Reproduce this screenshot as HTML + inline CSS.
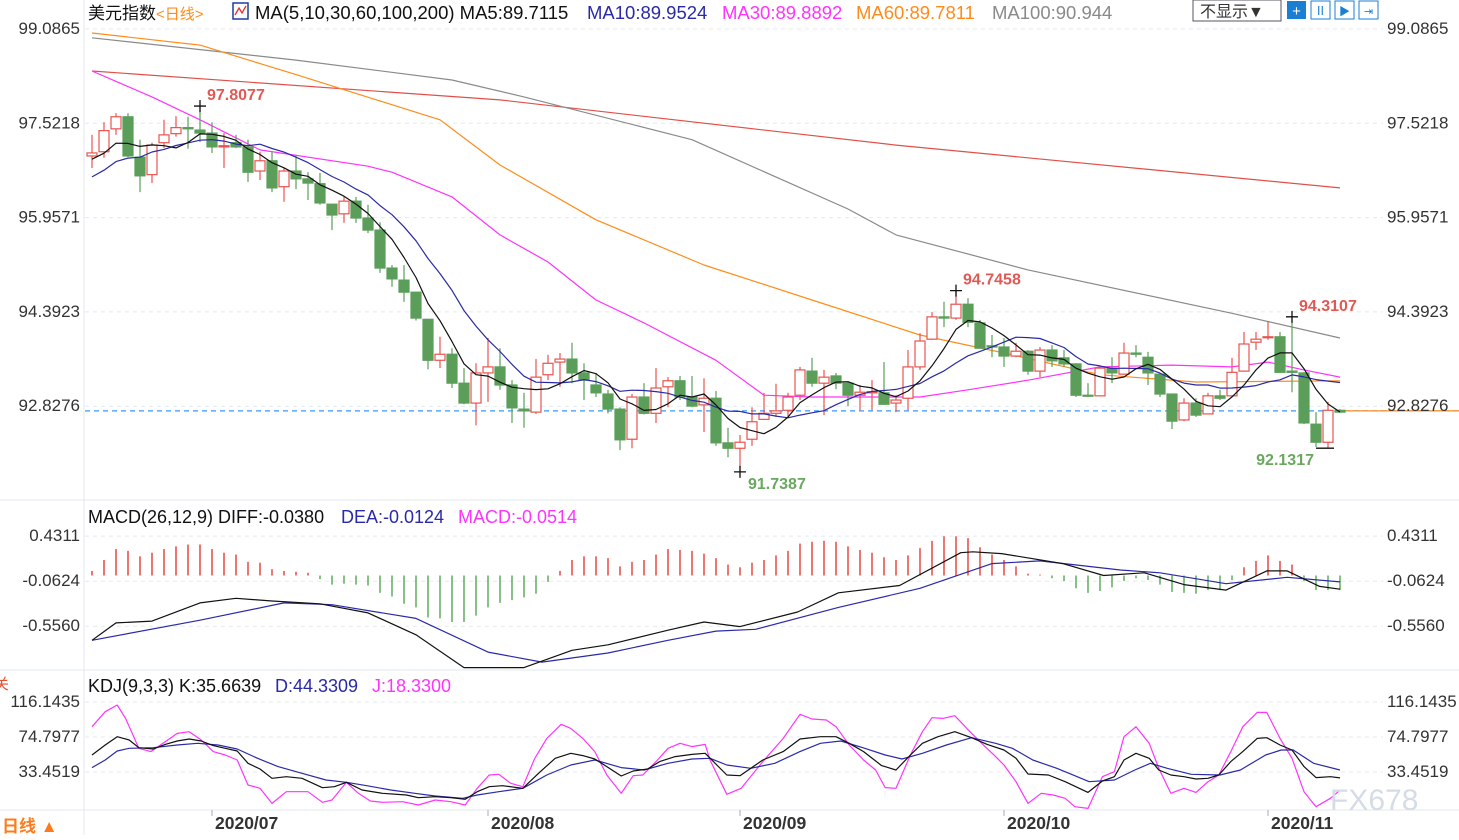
<!DOCTYPE html>
<html><head><meta charset="utf-8">
<style>
html,body{margin:0;padding:0;background:#fff;}
body{width:1459px;height:835px;overflow:hidden;font-family:"Liberation Sans","Noto Sans CJK SC",sans-serif;}
svg text{font-family:"Liberation Sans","Noto Sans CJK SC",sans-serif;}
</style></head>
<body>
<svg id="chart" width="1459" height="835" xmlns="http://www.w3.org/2000/svg">
<rect x="0" y="0" width="1459" height="835" fill="#fff"/>
<line x1="84" y1="0" x2="84" y2="835" stroke="#e3e8ee"/>
<line x1="0" y1="500" x2="1459" y2="500" stroke="#e3e8ee"/>
<line x1="0" y1="670" x2="1459" y2="670" stroke="#e3e8ee"/>
<line x1="0" y1="810" x2="1459" y2="810" stroke="#e3e8ee"/>
<g id="grid"></g>
<g id="main"></g>
<g id="macd"></g>
<g id="kdj"></g>
<g id="axes"></g>
<g font-size="18.5">
<text x="88" y="19" fill="#111" font-size="17">美元指数<tspan fill="#ff8c1a" font-size="15">&lt;日线&gt;</tspan></text>
<rect x="233" y="3" width="15" height="16" fill="#fff" stroke="#1f3f9f" stroke-width="1.5"/>
<polyline points="235,15 239,8 242,13 246,6" fill="none" stroke="#e03030" stroke-width="1.3"/>
<text x="255" y="19" fill="#111">MA(5,10,30,60,100,200) MA5:89.7115</text>
<text x="587" y="19" fill="#2a2aa8">MA10:89.9524</text>
<text x="722" y="19" fill="#ff33ff">MA30:89.8892</text>
<text x="856" y="19" fill="#ff8c1a">MA60:89.7811</text>
<text x="992" y="19" fill="#8a8a8a">MA100:90.944</text>
</g>
<g>
<rect x="1193" y="0" width="88" height="21" fill="#fff" stroke="#556"/>
<text x="1200" y="17" font-size="16" fill="#333">不显示▼</text>
<rect x="1287" y="1" width="19" height="18" fill="#1a7fd4"/>
<text x="1296.5" y="16" font-size="15" fill="#fff" text-anchor="middle">+</text>
<rect x="1311" y="1" width="19" height="18" fill="#fff" stroke="#1a7fd4"/>
<text x="1320.5" y="15" font-size="12" fill="#1a7fd4" text-anchor="middle">Ⅱ</text>
<rect x="1335" y="1" width="19" height="18" fill="#fff" stroke="#1a7fd4"/>
<text x="1344.5" y="15" font-size="11" fill="#1a7fd4" text-anchor="middle">▶</text>
<rect x="1359" y="1" width="19" height="18" fill="#fff" stroke="#1a7fd4"/>
<text x="1368.5" y="15" font-size="11" fill="#1a7fd4" text-anchor="middle">⇥</text>
</g>
<g font-size="18">
<text x="88" y="523" fill="#111">MACD(26,12,9) DIFF:-0.0380</text>
<text x="341" y="523" fill="#2a2aa8">DEA:-0.0124</text>
<text x="458" y="523" fill="#ff33ff">MACD:-0.0514</text>
</g>
<g font-size="18">
<text x="88" y="692" fill="#111">KDJ(9,3,3) K:35.6639</text>
<text x="275" y="692" fill="#2a2aa8">D:44.3309</text>
<text x="372" y="692" fill="#ff33ff">J:18.3300</text>
</g>
<text x="-6" y="689" font-size="15" fill="#e85030">关</text>
<text x="2" y="832" font-size="17" font-weight="bold" fill="#ff7a1a">日线 ▲</text>
<text x="1330" y="810" font-size="30" fill="#d5dce6">FX678</text>
</svg>
<script>
// ---- price data ----
const opens=[96.98,97.05,97.43,97.63,96.96,96.67,97.20,97.35,97.45,97.41,97.36,97.13,97.20,97.13,96.73,96.90,96.47,96.73,96.60,96.52,96.18,96.02,96.23,95.95,95.75,95.12,94.92,94.72,94.27,93.59,93.69,93.21,92.88,93.38,93.48,93.18,92.78,92.73,93.35,93.56,93.61,93.38,93.18,93.03,92.78,92.28,92.98,92.71,93.15,93.25,92.98,92.85,92.96,92.22,92.13,92.28,92.61,92.71,92.76,93.01,93.41,93.21,93.33,93.21,93.01,93.05,93.05,92.88,92.96,93.48,93.94,94.31,94.29,94.52,94.21,93.83,93.81,93.66,93.74,93.41,93.76,93.63,93.53,93.01,93.00,93.46,93.36,93.71,93.64,93.36,93.03,92.60,92.88,92.70,93.00,93.00,93.41,93.89,93.97,93.98,93.41,93.38,92.53,92.23,92.76];
const closes=[97.03,97.40,97.63,96.98,96.65,97.16,97.33,97.45,97.43,97.36,97.13,97.15,97.13,96.71,96.90,96.45,96.73,96.60,96.53,96.20,96.00,96.23,95.95,95.75,95.12,94.94,94.72,94.29,93.59,93.69,93.21,92.88,93.38,93.48,93.18,92.80,92.75,93.31,93.54,93.61,93.38,93.26,93.05,92.78,92.27,92.98,92.71,93.13,93.25,92.98,92.83,92.96,92.22,92.13,92.23,92.57,92.71,92.75,92.98,93.43,93.21,93.31,93.21,93.01,93.06,93.07,92.86,92.93,93.48,93.91,94.31,94.29,94.52,94.22,93.79,93.81,93.66,93.74,93.41,93.76,93.58,93.53,93.01,93.00,93.46,93.38,93.71,93.69,93.38,93.03,92.58,92.88,92.68,93.00,92.96,93.39,93.86,93.94,93.98,93.39,93.39,92.55,92.23,92.76,92.73];
const highs=[97.33,97.54,97.69,97.69,97.25,97.20,97.58,97.64,97.63,97.81,97.54,97.36,97.33,97.25,97.05,97.05,96.78,97.00,96.71,96.70,96.18,96.30,96.30,96.17,95.88,95.17,95.17,94.72,94.27,93.98,93.79,93.46,93.54,93.96,93.79,93.26,93.05,93.61,93.68,93.71,93.88,93.54,93.38,93.10,92.81,93.03,93.21,93.46,93.31,93.33,93.33,93.29,93.08,92.47,92.35,92.81,93.05,93.20,93.05,93.48,93.63,93.43,93.38,93.23,93.18,93.26,93.56,93.01,93.76,94.04,94.39,94.56,94.75,94.62,94.26,94.01,93.96,93.88,93.76,93.81,93.84,93.76,93.54,93.21,93.48,93.64,93.88,93.84,93.73,93.36,93.03,92.96,92.96,93.05,93.10,93.63,94.06,94.06,94.24,94.06,94.31,93.39,92.73,92.90,92.78];
const lows=[96.78,96.95,97.33,96.96,96.38,96.53,97.11,97.30,97.10,97.21,97.03,96.78,97.11,96.55,96.58,96.38,96.22,96.43,96.25,96.17,95.75,95.87,95.87,95.70,95.04,94.81,94.56,94.25,93.44,93.46,93.13,92.86,92.51,92.90,93.10,92.55,92.47,92.70,93.26,93.15,93.21,92.93,92.98,92.71,92.10,92.13,92.69,92.55,92.81,92.93,92.81,92.40,92.17,91.98,91.74,92.17,92.60,92.65,92.65,92.93,93.15,92.68,93.11,92.83,92.76,92.76,92.85,92.73,92.76,93.43,93.93,94.14,94.26,94.14,93.79,93.64,93.48,93.64,93.35,93.31,93.48,93.48,92.98,92.98,93.00,93.21,93.35,93.64,93.18,92.98,92.45,92.58,92.65,92.70,92.93,92.98,93.40,93.76,93.93,93.38,93.06,92.53,92.15,92.13,92.72];
const prevCloses=[96.3,96.2,96.4,96.5,96.3,96.9,96.8,97.0,96.9];
// long moving averages sampled at candle indices
const ma30Idx=[0,5,9,14,23,25,30,34,38,42,46,52,56,60,69,73,78,84,90,95,98,101,104];
const ma30Val=[98.39,97.96,97.58,97.08,96.81,96.71,96.30,95.67,95.22,94.59,94.21,93.59,93.01,92.98,92.98,93.10,93.26,93.48,93.51,93.48,93.56,93.43,93.31];
const ma60Idx=[0,9,17,21,29,34,42,51,60,69,76,84,92,104];
const ma60Val=[99.02,98.82,98.33,98.08,97.58,96.83,95.92,95.17,94.59,94.01,93.71,93.35,93.23,93.25];
const ma100Idx=[0,17,30,36,50,63,67,78,95,104];
const ma100Val=[98.94,98.57,98.24,97.96,97.25,96.10,95.67,95.09,94.37,93.96];
const ma200Idx=[0,34,67,104];
const ma200Val=[98.39,97.91,97.16,96.45];
const priceTicks=[99.0865,97.5218,95.9571,94.3923,92.8276];
const lastPrice=92.75;
const markIdx=[9,72,100,54,103];
const markVal=["97.8077","94.7458","94.3107","91.7387","92.1317"];
const markHigh=[true,true,true,false,false];
// ---- MACD data ----
const macdHist=[0.05,0.17,0.29,0.27,0.21,0.25,0.29,0.32,0.34,0.34,0.29,0.25,0.23,0.15,0.14,0.07,0.05,0.04,0.03,-0.04,-0.10,-0.09,-0.10,-0.11,-0.19,-0.23,-0.31,-0.35,-0.46,-0.47,-0.51,-0.51,-0.44,-0.35,-0.30,-0.27,-0.24,-0.20,-0.07,0.05,0.17,0.21,0.21,0.19,0.10,0.15,0.17,0.23,0.29,0.28,0.27,0.24,0.19,0.12,0.09,0.14,0.17,0.22,0.27,0.35,0.37,0.38,0.37,0.32,0.28,0.25,0.20,0.17,0.22,0.30,0.38,0.43,0.43,0.41,0.31,0.23,0.17,0.10,0.02,0.01,-0.03,-0.06,-0.14,-0.19,-0.17,-0.13,-0.06,-0.03,-0.05,-0.10,-0.18,-0.19,-0.20,-0.16,-0.16,-0.05,0.09,0.16,0.22,0.16,0.12,-0.06,-0.16,-0.16,-0.16];
const diffIdx=[0,2,5,9,12,15,19,23,27,31,36,40,43,48,51,54,58.8,62.2,67.3,72.4,73.4,75.8,80.9,84.3,87.7,91,94.5,97.9,99.6,102.3,104];
const diffVal=[-0.71,-0.52,-0.50,-0.30,-0.25,-0.28,-0.31,-0.41,-0.65,-1.01,-1.01,-0.82,-0.76,-0.60,-0.51,-0.56,-0.40,-0.19,-0.11,0.25,0.26,0.24,0.13,0,0.03,-0.10,-0.16,0.05,0.05,-0.12,-0.15];
const deaIdx=[0,9,16,20,27,33,37.5,43,48,52,55.3,62.2,69,75,79,85.7,89,94.5,99.6,104];
const deaVal=[-0.71,-0.49,-0.30,-0.32,-0.47,-0.84,-0.95,-0.85,-0.71,-0.61,-0.59,-0.35,-0.14,0.13,0.16,0.06,0.03,-0.09,-0.02,-0.07];
const macdTicks=[0.4311,-0.0624,-0.5560];
// ---- KDJ data ----
const kIdx=[0,1.1,2.1,3.1,3.9,5.1,6.1,7.1,8.1,9.1,10.1,11.1,12.1,13,14,15,16.2,17.5,19.2,20.2,21.2,22.5,24.2,26.2,27.2,28.6,29.9,31.1,32.1,33.1,34.2,35.9,37.3,38.6,39.9,40.9,41.9,42.9,44.1,45.1,46.3,47.3,48.6,50,51.1,52.9,54,55.9,57.6,59,60.7,62,63.1,64.3,65.8,67,68.2,69.2,70.5,71.9,73.3,74.6,76,77,78,79.7,81.1,83,84.2,85.2,86,87,88.1,88.9,89.9,91,92,93,93.9,94.9,95.9,97.1,97.9,99,100,101,102,103.2,104];
const kVal=[53.5,65.3,75.2,71.3,62.2,60.6,66.1,70.1,72.4,70.1,64.6,61.4,58.3,43.7,37.0,26.0,27.9,26.0,14.9,16.1,21.3,12.2,8.3,6.3,3.1,4.3,3.1,1.2,10.2,16.1,17.3,14.2,33.1,49.6,55.5,52.8,48.8,39.8,28.7,34.6,37.0,45.7,51.6,54.3,55.5,29.9,29.1,47.6,57.5,72.4,75.2,75.2,67.3,57.5,41.0,35.8,53.5,67.3,75.2,81.1,74.0,66.1,59.4,49.6,31.1,29.9,22.0,9.4,22.8,27.9,47.6,55.5,49.6,35.8,29.9,27.9,25.2,26.0,29.9,45.7,57.5,73.2,74.0,65.3,59.4,39.8,26.8,27.9,26.5];
const dIdx=[0,1.1,2.1,3.1,5.1,7.1,8.8,10.5,12.1,13.8,15.5,17.5,19.5,21.2,22.9,24.9,26.9,28.6,30.9,32.1,33.9,35.9,37.9,39.9,41.9,44.1,46,48,50,51.5,52.9,54.9,56.9,59,60.7,62.4,64.4,66.1,67.5,69.2,71.2,73.3,75.3,76.7,78.4,80.4,82.1,83.1,85.2,86.9,88.2,89.6,91.6,94,95.7,97.8,99.1,100.1,101.8,104];
const dVal=[38.6,47.6,58.3,61.4,62.2,65.3,67.3,65.3,60.6,49.6,39.8,31.9,24.0,21.3,17.3,12.2,8.3,5.1,2.4,6.3,10.2,14.2,29.9,41.7,47.6,38.6,35.8,43.7,48.8,49.6,41.7,37.8,43.7,57.5,67.3,70.1,61.4,53.5,48.8,55.5,65.3,74.0,67.3,61.4,47.6,37.8,27.9,22.0,24.0,35.8,43.7,37.8,30.7,29.9,35.8,53.5,59.4,59.4,43.7,35.8];
const jIdx=[0,1.1,2.1,2.8,3.9,4.9,6.1,7.1,8.1,9.1,10.1,11.1,12.1,13,14,15,16.2,18,19.2,20,21.2,22.2,23.2,24.2,25.9,27.2,28.6,29.9,31.1,32.1,33.1,33.9,34.9,35.9,36.9,37.9,39.1,39.9,40.9,41.9,42.9,44.1,45.1,45.9,47,48,49,50,51.1,51.5,52.9,54.1,55.9,57.6,59,60,61.2,62,63.1,64.3,65.3,66.1,67,68.2,69.2,70,70.9,71.9,72.9,74,75.3,76,77,78,79.1,80.1,81.1,81.9,83,84.2,85.2,86,87,88.1,88.9,89.9,91,92,93,93.9,94.9,95.9,97.1,97.9,99,100,101,102,103.2,104];
const jVal=[87.0,104.7,112.6,96.8,61.4,57.5,69.3,79.1,81.1,71.3,57.5,53.5,47.6,18.1,14.2,-3.6,10.2,10.2,-2.4,0.4,21.3,8.3,-0.8,-2.4,-1.6,-5.5,0.4,-1.6,-5.5,14.2,29.9,30.7,20.1,16.1,49.6,73.2,89.8,85.0,73.2,57.5,29.9,8.3,29.1,29.9,45.7,61.4,67.3,63.4,66.1,47.6,7.1,14.2,45.7,73.2,101.6,96.1,94.9,87.0,65.3,47.6,35.8,15.0,14.2,53.5,81.1,97.6,96.8,100.0,85.0,69.3,51.6,41.7,22.0,-3.6,8.3,6.3,2.4,-7.5,-9.5,27.9,33.8,75.2,87.0,67.3,37.8,8.3,14.2,9.4,22.0,29.9,57.5,87.0,103.9,103.9,73.2,49.6,10.2,-7.5,2.4,12.0];
const kdjTicks=[116.1435,74.7977,33.4519];
// ---- date axis ----
const monthLabels=["2020/07","2020/08","2020/09","2020/10","2020/11"];
const monthIdx=[10,33,54,76,98];

// ---- scales ----
const NS="http://www.w3.org/2000/svg";
const xAt=i=>92+12*i;
const yP=p=>29+(99.0865-p)*60.27;
const yM=v=>575.5-v*91.2;
const yK=v=>737+(74.7977-v)*0.8465;
const RED="#e8534f", GREEN="#5a9e5a";
function mk(parent,tag,attrs){const e=document.createElementNS(NS,tag);for(const k in attrs)e.setAttribute(k,attrs[k]);parent.appendChild(e);return e;}
function poly(parent,idx,vals,sc,color,name,w){
  const pts=idx.map((k,n)=>xAt(k).toFixed(1)+","+sc(vals[n]).toFixed(1)).join(" ");
  const e=mk(parent,"polyline",{points:pts,fill:"none",stroke:color,"stroke-width":w||1.2,"stroke-linejoin":"round"});
  
  
  return e;
}
const grid=document.getElementById("grid"),main=document.getElementById("main"),macd=document.getElementById("macd"),kdj=document.getElementById("kdj"),axes=document.getElementById("axes");

function ticks(vals,sc,fmt,name){
  vals.forEach(v=>{
    const y=sc(v);
    const g=mk(grid,"line",{x1:85,x2:1383,y1:y,y2:y,stroke:"#e4eaf0","stroke-dasharray":"4,4"});
    
    
    const l=mk(axes,"text",{x:80,y:y+5,"font-size":17,fill:"#333","text-anchor":"end"});
    l.textContent=fmt(v);
    
    
    const r=mk(axes,"text",{x:1387,y:y+5,"font-size":17,fill:"#333"});
    r.textContent=fmt(v);
    
    
  });
}
ticks(priceTicks,yP,v=>v.toFixed(4),"price");
ticks(macdTicks,yM,v=>v.toFixed(4),"macd");
ticks(kdjTicks,yK,v=>v.toFixed(4),"kdj");

const cp=mk(main,"line",{x1:85,x2:1459,y1:yP(lastPrice),y2:yP(lastPrice),stroke:"#3399ff","stroke-dasharray":"5,4","stroke-width":1.2});


const cp2=mk(main,"line",{x1:1340,x2:1459,y1:yP(lastPrice),y2:yP(lastPrice),stroke:"#ff8c1a","stroke-width":1.3});



function sma(n){const all=prevCloses.concat(closes);const off=prevCloses.length;const out=[];for(let i=0;i<closes.length;i++){let s=0,c=0;for(let j=off+i;j>off+i-n&&j>=0;j--){s+=all[j];c++;}out.push(s/c);}return out;}
const allIdx=closes.map((_,i)=>i);
poly(main,ma200Idx,ma200Val,yP,"#e0504a","ma200-line");
poly(main,ma100Idx,ma100Val,yP,"#8a8a8a","ma100-line");
poly(main,ma60Idx,ma60Val,yP,"#ff8c1a","ma60-line");
poly(main,ma30Idx,ma30Val,yP,"#ff33ff","ma30-line");

for(let i=0;i<closes.length;i++){
  const up=closes[i]>=opens[i];const col=up?RED:GREEN;const x=xAt(i);
  const w=mk(main,"line",{x1:x,x2:x,y1:yP(highs[i]),y2:yP(lows[i]),stroke:col,"stroke-width":1.2});
  
  
  const top=yP(Math.max(opens[i],closes[i])),bot=yP(Math.min(opens[i],closes[i]));
  const b=mk(main,"rect",{x:x-5,y:top,width:10,height:Math.max(1,bot-top),fill:up?"#fff":col,stroke:col,"stroke-width":1.2});
  
  
}
poly(main,allIdx,sma(10),yP,"#2a2aa8","ma10-line");
poly(main,allIdx,sma(5),yP,"#111","ma5-line");

markIdx.forEach((k,n)=>{
  const x=xAt(k);const v=parseFloat(markVal[n]);const y=yP(v);
  const c1=mk(main,"path",{d:`M${x-6},${y}H${x+6}`+(markHigh[n]||n<4?`M${x},${y-6}V${y+6}`:`M${x-12},${y}H${x}`),stroke:"#111","stroke-width":1.3});
  
  
  const t=mk(main,"text",{"font-size":16,"font-weight":"bold",fill:markHigh[n]?"#e05a55":"#6aa860"});
  if(markHigh[n]){t.setAttribute("x",x+7);t.setAttribute("y",y-6);}
  else if(n===3){t.setAttribute("x",x+8);t.setAttribute("y",y+17);}
  else{t.setAttribute("x",x-14);t.setAttribute("y",y+17);t.setAttribute("text-anchor","end");}
  t.textContent=markVal[n];
  
  
});

macdHist.forEach((v,i)=>{
  const x=xAt(i);
  const b=mk(macd,"line",{x1:x,x2:x,y1:yM(0),y2:yM(v),stroke:v>=0?RED:"#6ab06a","stroke-width":1.6});
  
  
});
poly(macd,deaIdx,deaVal,yM,"#2a2aa8","dea-line");
poly(macd,diffIdx,diffVal,yM,"#111","diff-line");

poly(kdj,jIdx,jVal,yK,"#ff33ff","j-line");
poly(kdj,dIdx,dVal,yK,"#2a2aa8","d-line");
poly(kdj,kIdx,kVal,yK,"#111","k-line");

monthIdx.forEach((k,n)=>{
  const x=xAt(k);
  const tk=mk(axes,"line",{x1:x,x2:x,y1:810,y2:816,stroke:"#aab"});
  
  
  const t=mk(axes,"text",{x:x+3,y:829,"font-size":17.5,"font-weight":"bold",fill:"#333"});
  t.textContent=monthLabels[n];
  
  
});
</script>
</body></html>
